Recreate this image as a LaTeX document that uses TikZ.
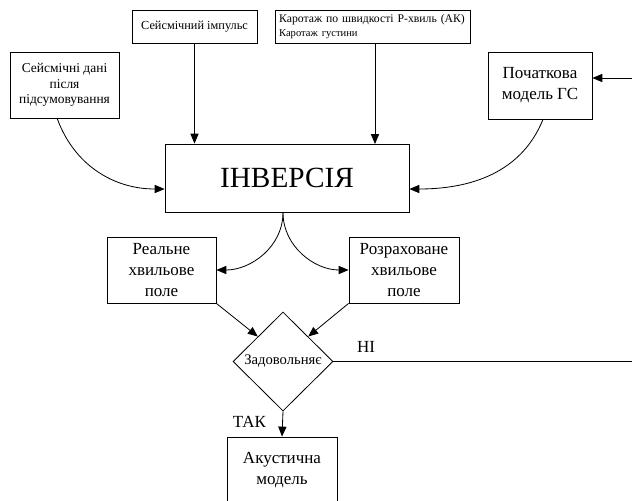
\documentclass[tikz,border=0pt]{standalone}
\usepackage{fontspec}
\setmainfont{Liberation Serif}
\usetikzlibrary{shapes.geometric,arrows.meta}
\begin{document}
\begin{tikzpicture}[x=0.03cm,y=-0.03cm,
                blok/.style={draw,line width=0.7pt,align=center,inner sep=0pt},
                strilka/.style={line width=0.7pt,-{Triangle[length=8.5pt,width=7pt]}},
                liniya/.style={line width=0.7pt}]
                \useasboundingbox (0,0) rectangle (632,501) ;
                % vkhidni dani
                \node [blok,minimum width=3.27cm,minimum height=1.98cm,font=\fontsize{11.5}{13.5}\selectfont] (dani) at (64.5,85) {Сейсмічні дані\\після\\підсумовування} ;
                \node [blok,minimum width=3.75cm,minimum height=0.99cm,font=\fontsize{10.5}{12}\selectfont] (impuls) at (194.5,26.5) {Сейсмічний імпульс} ;
                \node [blok,align=left,minimum width=5.85cm,minimum height=0.99cm,text width=5.6cm] (karotazh) at (372.5,26.5) {{\fontsize{10}{11}\selectfont Каротаж по швидкості Р-хвиль (АК)}\\{\fontsize{9}{10.5}\selectfont Каротаж густини}} ;
                \node [blok,minimum width=3.12cm,minimum height=2.01cm,font=\fontsize{14.5}{18}\selectfont] (model0) at (540,85.5) {Початкова\\модель ГС} ;
                % inversiya
                \node [blok,minimum width=7.32cm,minimum height=2.04cm,font=\fontsize{25}{30}\selectfont] (inv) at (287,178) {ІНВЕРСІЯ} ;
                \node [blok,minimum width=3.27cm,minimum height=1.98cm,font=\fontsize{14.5}{18.3}\selectfont] (realne) at (161.5,270) {Реальне\\хвильове\\поле} ;
                \node [blok,minimum width=3.3cm,minimum height=1.98cm,font=\fontsize{14.5}{18.3}\selectfont] (rozrakh) at (404,270) {Розраховане\\хвильове\\поле} ;
                \node [draw,line width=0.7pt,diamond,inner sep=0pt,minimum width=3cm,minimum height=2.97cm,font=\fontsize{12.5}{14}\selectfont] (umova) at (283,361.5) {Задовольняє} ;
                \node [blok,minimum width=3.3cm,minimum height=1.98cm,font=\fontsize{14.5}{18}\selectfont] (akust) at (282,470) {Акустична\\модель} ;
                \node [font=\fontsize{14.5}{17}\selectfont] (ni) at (366,347) {НІ} ;
                \node [font=\fontsize{14.5}{17}\selectfont] (tak) at (249.5,422) {ТАК} ;
                \coordinate (kraiNi) at (632,361.5) ;
                \coordinate (kraiVkhid) at (632,78) ;
                % strilky
                \draw [strilka] (impuls.south) -- (impuls.south |- inv.north) ;
                \draw [strilka] (375,43) -- (375,144) ;
                \draw [strilka] ([xshift=-0.22cm]dani.south) to[out=-70,in=180] ([yshift=-0.33cm]inv.west) ;
                \draw [strilka] ([xshift=0.09cm]model0.south) to[out=-112,in=0] ([yshift=-0.33cm]inv.east) ;
                \draw [strilka] ([xshift=-0.12cm]inv.south) to[out=-90,in=0] (realne.east) ;
                \draw [strilka] ([xshift=-0.12cm]inv.south) to[out=-90,in=180] (rozrakh.west) ;
                \draw [strilka] (realne.south east) -- (umova.north west) ;
                \draw [strilka] (rozrakh.south west) -- (umova.north east) ;
                \draw [strilka] (umova.south) -- (akust.north) ;
                \draw [liniya] (umova.east) -- (kraiNi) ;
                \draw [strilka] (kraiVkhid) -- (kraiVkhid -| model0.east) ;
            \end{tikzpicture}
\end{document}
